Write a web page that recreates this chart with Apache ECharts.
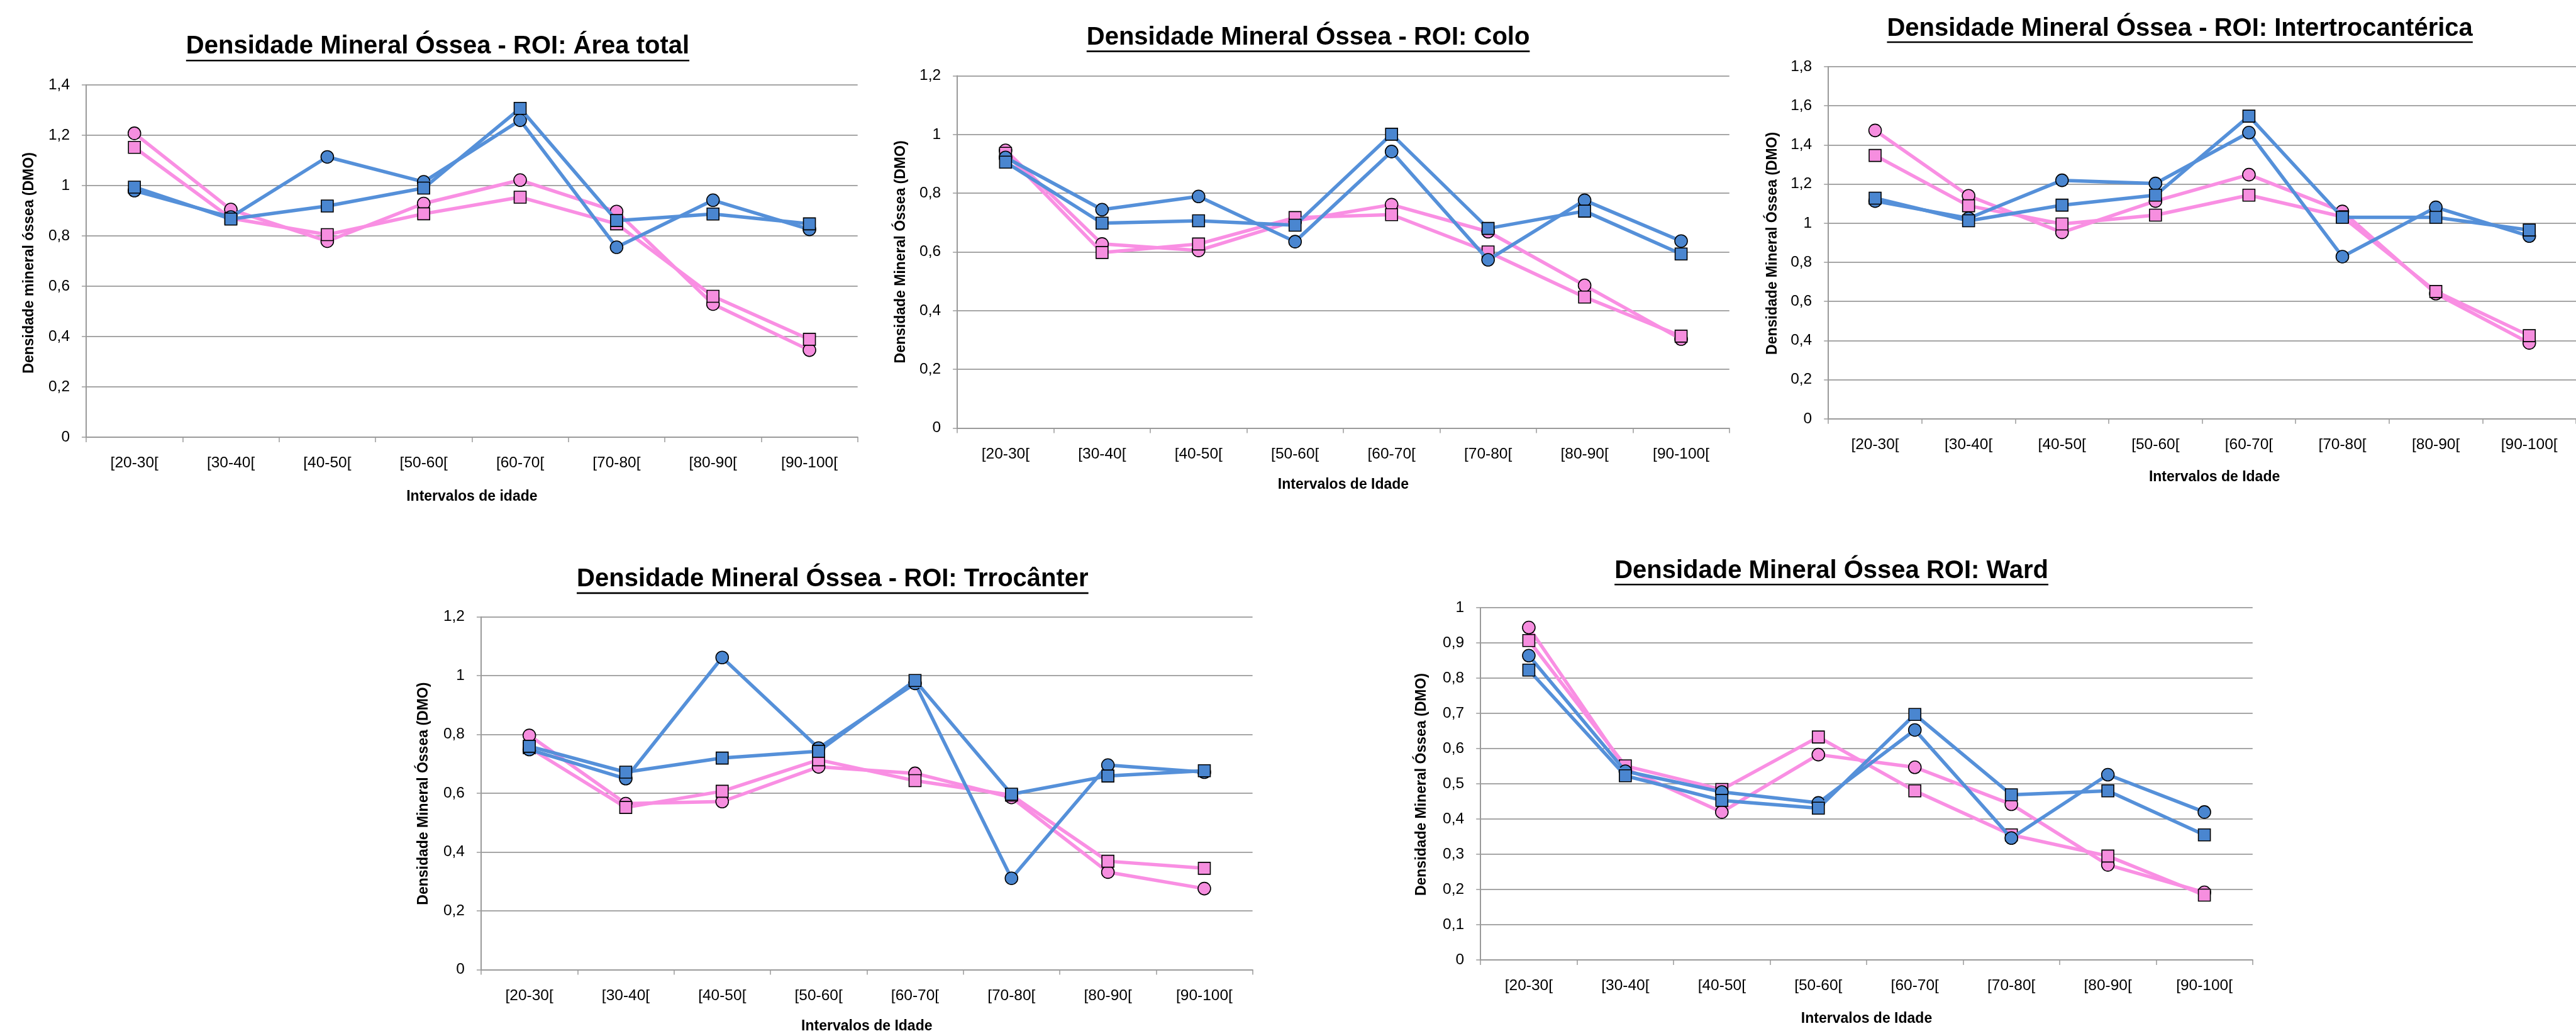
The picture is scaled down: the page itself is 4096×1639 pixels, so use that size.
<!DOCTYPE html>
<html>
<head>
<meta charset="utf-8">
<script src="https://cdn.jsdelivr.net/npm/echarts@6/dist/echarts.min.js"></script>
<style>
html,body{margin:0;padding:0;background:#ffffff;overflow:hidden}
#c{width:4096px;height:1639px}
</style>
</head>
<body>
<div id="c"></div>
<script>
// ---------- DATA ----------
const categories = ['[20-30[', '[30-40[', '[40-50[', '[50-60[', '[60-70[', '[70-80[', '[80-90[', '[90-100['];

const chartTitles = [
  'Densidade Mineral Óssea - ROI: Área total',
  'Densidade Mineral Óssea - ROI: Colo',
  'Densidade Mineral Óssea - ROI: Intertrocantérica',
  'Densidade Mineral Óssea - ROI: Trrocânter',
  'Densidade Mineral Óssea ROI: Ward'
];
const yAxisTitles = [
  'Densidade mineral óssea (DMO)',
  'Densidade Mineral Óssea (DMO)',
  'Densidade Mineral Óssea (DMO)',
  'Densidade Mineral Óssea (DMO)',
  'Densidade Mineral Óssea (DMO)'
];
const xAxisTitles = [
  'Intervalos de idade',
  'Intervalos de Idade',
  'Intervalos de Idade',
  'Intervalos de Idade',
  'Intervalos de Idade'
];
const yMax = [1.4, 1.2, 1.8, 1.2, 1.0];
const yStep = [0.2, 0.2, 0.2, 0.2, 0.1];

// Área total
const areaTotalBlueCircle = [0.980, 0.875, 1.114, 1.015, 1.260, 0.755, 0.942, 0.826];
const areaTotalBlueSquare = [0.994, 0.867, 0.919, 0.990, 1.307, 0.861, 0.887, 0.848];
const areaTotalPinkCircle = [1.208, 0.905, 0.779, 0.929, 1.022, 0.897, 0.529, 0.346];
const areaTotalPinkSquare = [1.152, 0.870, 0.805, 0.888, 0.954, 0.848, 0.560, 0.389];
// Colo
const coloBlueCircle = [0.922, 0.744, 0.789, 0.635, 0.942, 0.573, 0.776, 0.637];
const coloBlueSquare = [0.906, 0.698, 0.706, 0.691, 1.001, 0.680, 0.739, 0.593];
const coloPinkCircle = [0.946, 0.627, 0.605, 0.706, 0.761, 0.669, 0.486, 0.303];
const coloPinkSquare = [0.936, 0.598, 0.627, 0.717, 0.727, 0.600, 0.446, 0.313];
// Intertrocantérica
const interBlueCircle = [1.113, 1.025, 1.219, 1.203, 1.463, 0.829, 1.081, 0.934];
const interBlueSquare = [1.128, 1.012, 1.092, 1.143, 1.547, 1.030, 1.030, 0.965];
const interPinkCircle = [1.474, 1.140, 0.953, 1.113, 1.248, 1.060, 0.640, 0.388];
const interPinkSquare = [1.346, 1.089, 0.996, 1.041, 1.143, 1.033, 0.651, 0.425];
// Trrocânter
const trocBlueCircle = [0.749, 0.650, 1.062, 0.754, 0.974, 0.311, 0.696, 0.672];
const trocBlueSquare = [0.760, 0.672, 0.720, 0.743, 0.984, 0.597, 0.659, 0.677];
const trocPinkCircle = [0.797, 0.565, 0.572, 0.690, 0.668, 0.586, 0.332, 0.276];
const trocPinkSquare = [0.755, 0.552, 0.607, 0.714, 0.643, 0.594, 0.369, 0.345];
// Ward
const wardBlueCircle = [0.864, 0.536, 0.477, 0.446, 0.653, 0.346, 0.526, 0.420];
const wardBlueSquare = [0.823, 0.523, 0.453, 0.431, 0.697, 0.469, 0.480, 0.355];
const wardPinkCircle = [0.944, 0.544, 0.420, 0.583, 0.547, 0.442, 0.270, 0.192];
const wardPinkSquare = [0.907, 0.551, 0.484, 0.633, 0.480, 0.355, 0.295, 0.184];

const chartSeries = [
  [areaTotalPinkCircle, areaTotalPinkSquare, areaTotalBlueCircle, areaTotalBlueSquare],
  [coloPinkCircle, coloPinkSquare, coloBlueCircle, coloBlueSquare],
  [interPinkCircle, interPinkSquare, interBlueCircle, interBlueSquare],
  [trocPinkCircle, trocPinkSquare, trocBlueCircle, trocBlueSquare],
  [wardPinkCircle, wardPinkSquare, wardBlueCircle, wardBlueSquare]
];

// ---------- LAYOUT (reference pixels, scaled below) ----------
const S = 4096 / 4214;
const frames = [
  {l: 141,  r: 1403, t: 139,  b: 715,  tx: 716,  tb: 90,  ul: 99,  yx: 48,   yy: 430,  xy: 812},
  {l: 1566, r: 2829, t: 124,  b: 700,  tx: 2140, tb: 76,  ul: 84,  yx: 1474, yy: 412,  xy: 793},
  {l: 2991, r: 4254, t: 109,  b: 685,  tx: 3566, tb: 62,  ul: 69,  yx: 2900, yy: 398,  xy: 780},
  {l: 787,  r: 2049, t: 1009, b: 1586, tx: 1362, tb: 962, ul: 970, yx: 693,  yy: 1298, xy: 1679},
  {l: 2422, r: 3685, t: 994,  b: 1570, tx: 2996, tb: 948, ul: 956, yx: 2326, yy: 1283, xy: 1666}
];

const FONT = '"Liberation Sans", Arial, sans-serif';
const BLUE_LINE = '#5590D9';
const BLUE_FILL = '#4A86D0';
const PINK_LINE = '#F98FE3';
const PINK_FILL = '#F68EDF';
const GRID_COLOR = '#A6A6A6';
const AXIS_COLOR = '#9A9A9A';

const titleSize = 40;
const axisTitleSize = 23;
const tickSize = 24.5;

const measureCtx = document.createElement('canvas').getContext('2d');
function textWidth(text, font) { measureCtx.font = font; return measureCtx.measureText(text).width; }

const grids = [], xAxes = [], yAxes = [], series = [], graphics = [];

frames.forEach((f, i) => {
  grids.push({
    left: f.l * S, top: f.t * S,
    width: (f.r - f.l) * S, height: (f.b - f.t) * S,
    containLabel: false
  });
  xAxes.push({
    gridIndex: i, type: 'category', data: categories, boundaryGap: true,
    axisLine: {show: true, lineStyle: {color: AXIS_COLOR, width: 2}},
    axisTick: {show: true, length: 8, alignWithLabel: false, lineStyle: {color: AXIS_COLOR, width: 1.5}},
    axisLabel: {show: true, interval: 0, color: '#000', fontSize: tickSize, fontFamily: FONT, margin: 29},
    splitLine: {show: false}
  });
  yAxes.push({
    gridIndex: i, type: 'value', min: 0, max: yMax[i], interval: yStep[i],
    axisLine: {show: true, lineStyle: {color: AXIS_COLOR, width: 2}},
    axisTick: {show: true, length: 7, lineStyle: {color: AXIS_COLOR, width: 1.5}},
    axisLabel: {
      show: true, color: '#000', fontSize: tickSize, fontFamily: FONT, margin: 26,
      formatter: v => String(+(+v).toFixed(2)).replace('.', ',')
    },
    splitLine: {show: true, lineStyle: {color: GRID_COLOR, width: 2}}
  });

  const specs = [
    {color: PINK_LINE, fill: PINK_FILL, symbol: 'circle', size: 20},
    {color: PINK_LINE, fill: PINK_FILL, symbol: 'rect', size: 19},
    {color: BLUE_LINE, fill: BLUE_FILL, symbol: 'circle', size: 20},
    {color: BLUE_LINE, fill: BLUE_FILL, symbol: 'rect', size: 19}
  ];
  chartSeries[i].forEach((data, k) => {
    const sp = specs[k];
    series.push({
      type: 'line', xAxisIndex: i, yAxisIndex: i, data: data,
      symbol: sp.symbol, symbolSize: sp.size, showSymbol: true, showAllSymbol: true,
      lineStyle: {color: sp.color, width: 5.5},
      itemStyle: {color: sp.fill, borderColor: '#000', borderWidth: 1.6},
      z: 2 + k, animation: false, silent: true,
      emphasis: {disabled: true}
    });
  });

  // chart title (underlined)
  const tFont = 'bold ' + titleSize + 'px ' + FONT;
  const tw = textWidth(chartTitles[i], tFont);
  const cx = f.tx * S;
  const baseline = f.tb * S;
  graphics.push({
    type: 'text', x: cx, y: baseline - 0.8465 * titleSize, silent: true,
    style: {text: chartTitles[i], font: tFont, fill: '#000',
            align: 'center', verticalAlign: 'top', textAlign: 'center', textVerticalAlign: 'top'}
  });
  graphics.push({
    type: 'rect', silent: true,
    shape: {x: cx - tw / 2, y: f.ul * S - 1.3, width: tw, height: 2.6},
    style: {fill: '#000'}
  });
  // y axis title
  const yFont = 'bold ' + axisTitleSize + 'px ' + FONT;
  graphics.push({
    type: 'text', x: f.yx * S, y: f.yy * S, rotation: Math.PI / 2, silent: true,
    style: {text: yAxisTitles[i], font: yFont, fill: '#000',
            align: 'center', verticalAlign: 'middle', textAlign: 'center', textVerticalAlign: 'middle'}
  });
  // x axis title
  graphics.push({
    type: 'text', x: (f.l + f.r) / 2 * S, y: f.xy * S, silent: true,
    style: {text: xAxisTitles[i], font: yFont, fill: '#000',
            align: 'center', verticalAlign: 'middle', textAlign: 'center', textVerticalAlign: 'middle'}
  });
});

const chart = echarts.init(document.getElementById('c'), null, {renderer: 'canvas', devicePixelRatio: 1});
chart.setOption({
  backgroundColor: '#ffffff',
  animation: false,
  grid: grids,
  xAxis: xAxes,
  yAxis: yAxes,
  series: series,
  graphic: {elements: graphics}
});
</script>
</body>
</html>
